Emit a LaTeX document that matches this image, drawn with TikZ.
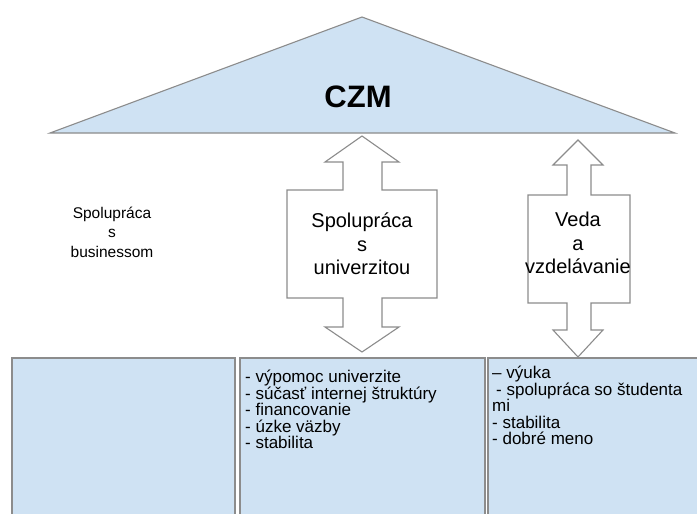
\documentclass[tikz,border=0pt]{standalone}
\usepackage{fontspec}
\setmainfont{Liberation Sans}
\begin{document}
\begin{tikzpicture}[x=1pt,y=-1pt,
  frame/.style={draw=edgegray,line width=1.1pt,line join=miter},
  panel/.style={frame,fill=paleblue},
  dblarrow/.style={frame,fill=white},
  arrowtext/.style={align=center,inner sep=0pt,font=\fontsize{20}{23.5}\selectfont},
  sidetext/.style={align=center,inner sep=0pt,font=\fontsize{15.5}{19.5}\selectfont},
  listtext/.style={align=left,anchor=north west,inner sep=0pt,font=\fontsize{17}{16.5}\selectfont}]
\definecolor{paleblue}{HTML}{CFE2F3}
\definecolor{edgegray}{HTML}{8C8C8C}
\useasboundingbox[fill=white] (0,0) rectangle (697,514);

% roof
\draw[panel] (50,133) -- (362,17) -- (675,133) -- cycle;
\node[font=\fontsize{31}{31}\selectfont\bfseries] (czm) at (358,97) {CZM};

% lower panels
\draw[panel] (12,358) rectangle (235,530);
\draw[panel] (240,358) rectangle (485,530);
\draw[panel] (488,358) rectangle (710,530);

% double arrow: cooperation with the university
\draw[dblarrow] (362,136) -- (399,162) -- (382,162) -- (382,190) -- (437,190)
  -- (437,298) -- (382,298) -- (382,327) -- (399,327) -- (362,352)
  -- (325,327) -- (343,327) -- (343,298) -- (287,298) -- (287,190)
  -- (343,190) -- (343,162) -- (325,162) -- cycle;

% double arrow: science and education
\draw[dblarrow] (578,140) -- (603,165) -- (591,165) -- (591,195) -- (630,195)
  -- (630,303) -- (591,303) -- (591,330) -- (603,330) -- (578,357)
  -- (553,330) -- (567,330) -- (567,303) -- (528,303) -- (528,195)
  -- (567,195) -- (567,165) -- (553,165) -- cycle;

\node[sidetext] (biz) at (112,232) {Spolupráca\\s\\businessom};
\node[arrowtext] (uni) at (362,244) {Spolupráca\\s\\univerzitou};
\node[arrowtext] (veda) at (578,243) {Veda\\a\\vzdelávanie};

\node[listtext] (unilist) at (245,370) {- výpomoc univerzite\\- súčasť internej štruktúry\\- financovanie\\- úzke väzby\\- stabilita};
\node[listtext] (vedalist) at (492,366) {– výuka\\\hspace{4pt}- spolupráca so študenta\\mi\\- stabilita\\- dobré meno};
\end{tikzpicture}
\end{document}
